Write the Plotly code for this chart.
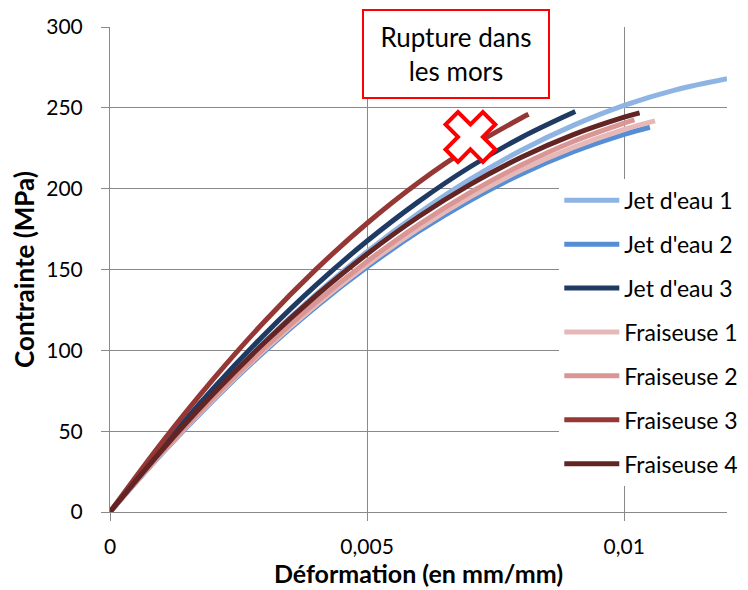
import plotly.graph_objects as go

# ---- data ----
names = ["Jet d'eau 1", "Jet d'eau 2", "Jet d'eau 3", "Fraiseuse 1", "Fraiseuse 2", "Fraiseuse 3", "Fraiseuse 4"]
colors = ["#8EB4E3", "#558ED5", "#1F3B64", "#E6B9B8", "#D99694", "#953735", "#632523"]

je1_x = [0, 0.001, 0.002, 0.003, 0.004, 0.005, 0.006, 0.007, 0.008, 0.009, 0.010, 0.011, 0.012]
je1_y = [0, 37.8, 72.9, 105.1, 134.4, 161.0, 184.7, 205.7, 223.8, 239.0, 251.5, 261.1, 268.0]

je2_x = [0, 0.001, 0.002, 0.003, 0.004, 0.005, 0.006, 0.007, 0.008, 0.009, 0.010, 0.0105]
je2_y = [0, 35.9, 68.9, 99.2, 126.8, 151.5, 173.5, 192.7, 209.1, 222.7, 233.6, 238.0]

je3_x = [0, 0.001, 0.002, 0.003, 0.004, 0.005, 0.006, 0.007, 0.008, 0.009, 0.00905]
je3_y = [0, 39.6, 76.2, 109.7, 140.2, 167.6, 192.0, 213.4, 231.7, 247.0, 247.7]

f1_x = [0, 0.001, 0.002, 0.003, 0.004, 0.005, 0.006, 0.007, 0.008, 0.009, 0.010, 0.0106]
f1_y = [0, 36.2, 69.5, 100.1, 127.9, 153.0, 175.3, 194.8, 211.5, 225.4, 236.6, 241.9]

f2_x = [0, 0.001, 0.002, 0.003, 0.004, 0.005, 0.006, 0.007, 0.008, 0.009, 0.010, 0.0102]
f2_y = [0, 36.6, 70.3, 101.3, 129.6, 155.0, 177.7, 197.5, 214.6, 229.0, 240.5, 242.5]

f3_x = [0, 0.001, 0.002, 0.003, 0.004, 0.005, 0.006, 0.007, 0.008, 0.00814]
f3_y = [0, 42.7, 81.9, 117.7, 149.9, 178.6, 203.8, 225.5, 243.7, 246.0]

f4_x = [0, 0.001, 0.002, 0.003, 0.004, 0.005, 0.006, 0.007, 0.008, 0.009, 0.010, 0.0103]
f4_y = [0, 37.9, 72.8, 104.7, 133.6, 159.6, 182.6, 202.5, 219.4, 233.3, 244.2, 246.9]

series_x = [je1_x, je2_x, je3_x, f1_x, f2_x, f3_x, f4_x]
series_y = [je1_y, je2_y, je3_y, f1_y, f2_y, f3_y, f4_y]

rupture_x = [0.00701]
rupture_y = [232.0]
rupture_text = "Rupture dans<br>les mors"

x_tickvals = [0, 0.005, 0.01]
x_ticktext = ["0", "0,005", "0,01"]
y_tickvals = [0, 50, 100, 150, 200, 250, 300]

FONT = "Lato, 'Open Sans', sans-serif"

fig = go.Figure()
for i, (n, c, xs, ys) in enumerate(zip(names, colors, series_x, series_y)):
    fig.add_trace(go.Scatter(
        x=xs, y=ys, name=n, mode="lines",
        line=dict(color=c, width=5, shape="spline"),
        legendgroup=f"g{i}",
    ))

fig.add_trace(go.Scatter(
    x=rupture_x, y=rupture_y, mode="markers", showlegend=False,
    marker=dict(symbol="x", size=44, color="white", line=dict(color="#FF0000", width=4)),
))

grid = "#898989"
fig.update_layout(
    width=740, height=582,
    margin=dict(l=102, r=21, t=19, b=78, autoexpand=False),
    paper_bgcolor="white", plot_bgcolor="white",
    font=dict(family=FONT, size=22, color="#000000"),
    separators=", ",
    showlegend=True,
    legend=dict(
        xref="container", yref="paper",
        x=0.745, xanchor="left", y=0.687, yanchor="top",
        bgcolor="white", borderwidth=0,
        font=dict(family=FONT, size=23, color="#000000"),
        tracegroupgap=11, itemwidth=55, maxheight=420,
    ),
    xaxis=dict(
        range=[0, 0.012], tickvals=x_tickvals, ticktext=x_ticktext,
        showgrid=True, gridcolor=grid, gridwidth=1,
        showline=True, linecolor=grid, linewidth=1,
        ticks="outside", ticklen=8, tickcolor=grid,
        zeroline=False, ticklabelstandoff=8,
        tickfont=dict(family=FONT, size=21),
        title=dict(text="<b>Déformation (en mm/mm)</b>", font=dict(family=FONT, size=25), standoff=5),
    ),
    yaxis=dict(
        range=[0, 300], tickvals=y_tickvals,
        showgrid=True, gridcolor=grid, gridwidth=1,
        showline=True, linecolor=grid, linewidth=1,
        ticks="outside", ticklen=8, tickcolor=grid,
        zeroline=False, ticklabelstandoff=14,
        tickfont=dict(family=FONT, size=21),
        title=dict(text="<b>Contrainte (MPa)</b>", font=dict(family=FONT, size=26), standoff=10),
    ),
    annotations=[dict(
        xref="paper", yref="paper", x=(456 - 110) / 617, y=(512 - 54) / 485,
        xanchor="center", yanchor="middle",
        text=rupture_text, showarrow=False, align="center",
        font=dict(family=FONT, size=26, color="#000000"),
        bgcolor="white", bordercolor="#FF0000", borderwidth=2,
        borderpad=7, width=170, height=72,
    )],
)

fig.write_html("out.html")
